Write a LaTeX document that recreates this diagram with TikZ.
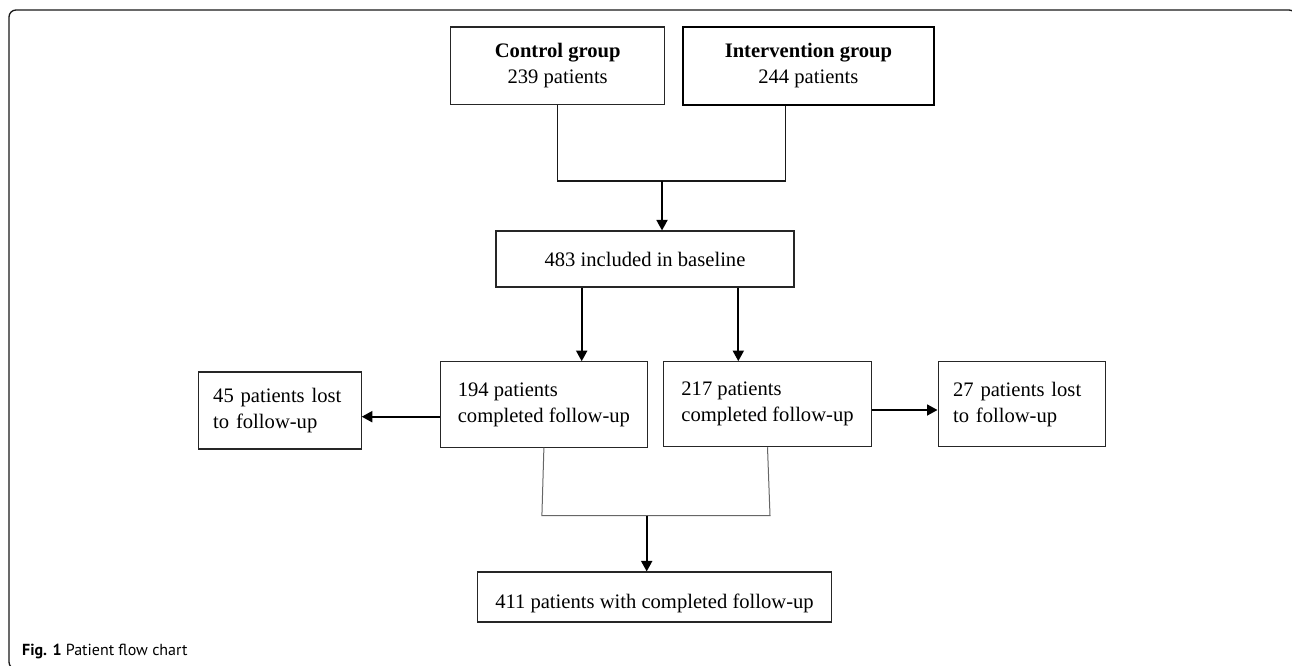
\documentclass[tikz,border=0pt]{standalone}
\usepackage{fontspec}
\setmainfont{Liberation Serif}
\newfontfamily\capfont{PT Sans}
\usetikzlibrary{arrows.meta}

\tikzset{
	box/.style={draw=black!85, line width=1.1pt, inner sep=0pt, align=center,
		font=\fontsize{20.6}{26}\selectfont},
	lostbox/.style={box, align=left, inner xsep=15pt},
	arr/.style={line width=1.8pt, -{Triangle[length=10.5pt,width=11pt]}},
	joinline/.style={line width=1.2pt, black!90},
	thinjoin/.style={line width=1pt, black!60}
}

\begin{document}
\begin{tikzpicture}[x=1pt,y=-1pt]
	\useasboundingbox (0,0) rectangle (1292,666);
	\clip (0,0) rectangle (1292,666);
	
	% Draw outer frame
	\draw[line width=1.3pt, black!90, rounded corners=7pt] (9,10) rectangle (1296,669);
	
	% Draw the two groups
	\node[box, minimum width=214pt, minimum height=77.7pt] (ctrl) at (557.7,65.9)
		{\textbf{Control group}\\239 patients};
	\node[box, line width=2pt, draw=black, minimum width=251.3pt, minimum height=78.3pt] (intv) at (808.4,65.9)
		{\textbf{Intervention group}\\244 patients};
	
	% Baseline
	\node[box, minimum width=298pt, minimum height=56pt] (base) at (645,259)
		{483 included in baseline};
	
	% Follow-up boxes
	\node[box, align=left, minimum width=207.7pt, minimum height=85.3pt] (fuctrl) at (543.9,404.4)
		{194 patients\\completed follow-up};
	\node[box, align=left, minimum width=208.4pt, minimum height=85pt] (fuintv) at (767.5,404.2)
		{217 patients\\completed follow-up};
	\node[lostbox, text width=133pt, minimum height=77pt] (lostctrl) at (279.7,410.5)
		{45 patients lost\\to follow-up};
	\node[lostbox, text width=137.7pt, minimum height=85pt] (lostintv) at (1021.9,404.2)
		{27 patients lost\\to follow-up};
	
	% Final box
	\node[box, text height=28pt, text depth=5pt, minimum width=354.4pt, minimum height=50pt] (final) at (654.5,597)
		{411 patients with completed follow-up};
	
	% Join points
	\coordinate (topjoin) at (662,181);
	\coordinate (lowjoin) at (646.7,515.5);
	
	% Connect groups to baseline
	\draw[joinline] (ctrl.south) |- (topjoin) -| ([xshift=-22.6pt]intv.south);
	\draw[arr] (topjoin) -- (topjoin |- base.north);
	
	% Baseline to follow-up
	\draw[arr] ([xshift=-63.3pt]base.south) -- ([xshift=-63.3pt]base.south |- fuctrl.north);
	\draw[arr] ([xshift=93.3pt]base.south) -- ([xshift=93.3pt]base.south |- fuintv.north);
	
	% Lost to follow-up
	\draw[arr] ([yshift=-12.3pt]fuctrl.west) -- ([yshift=-12.3pt]fuctrl.west -| lostctrl.east);
	\draw[arr] ([yshift=-5.8pt]fuintv.east) -- ([yshift=-5.8pt]fuintv.east -| lostintv.west);
	
	% Follow-up to final
	\draw[thinjoin] (fuctrl.south) -- ([xshift=-2pt]fuctrl.south |- lowjoin)
		-- ([xshift=2.5pt]fuintv.south |- lowjoin) -- (fuintv.south);
	\draw[arr] (lowjoin) -- (lowjoin |- final.north);
	
	% Caption
	\node[anchor=base west, inner sep=0pt, font=\capfont\fontsize{16}{19}\selectfont] (caption) at (22,655)
		{\textbf{Fig. 1} Patient flow chart};
	
\end{tikzpicture}
\end{document}
